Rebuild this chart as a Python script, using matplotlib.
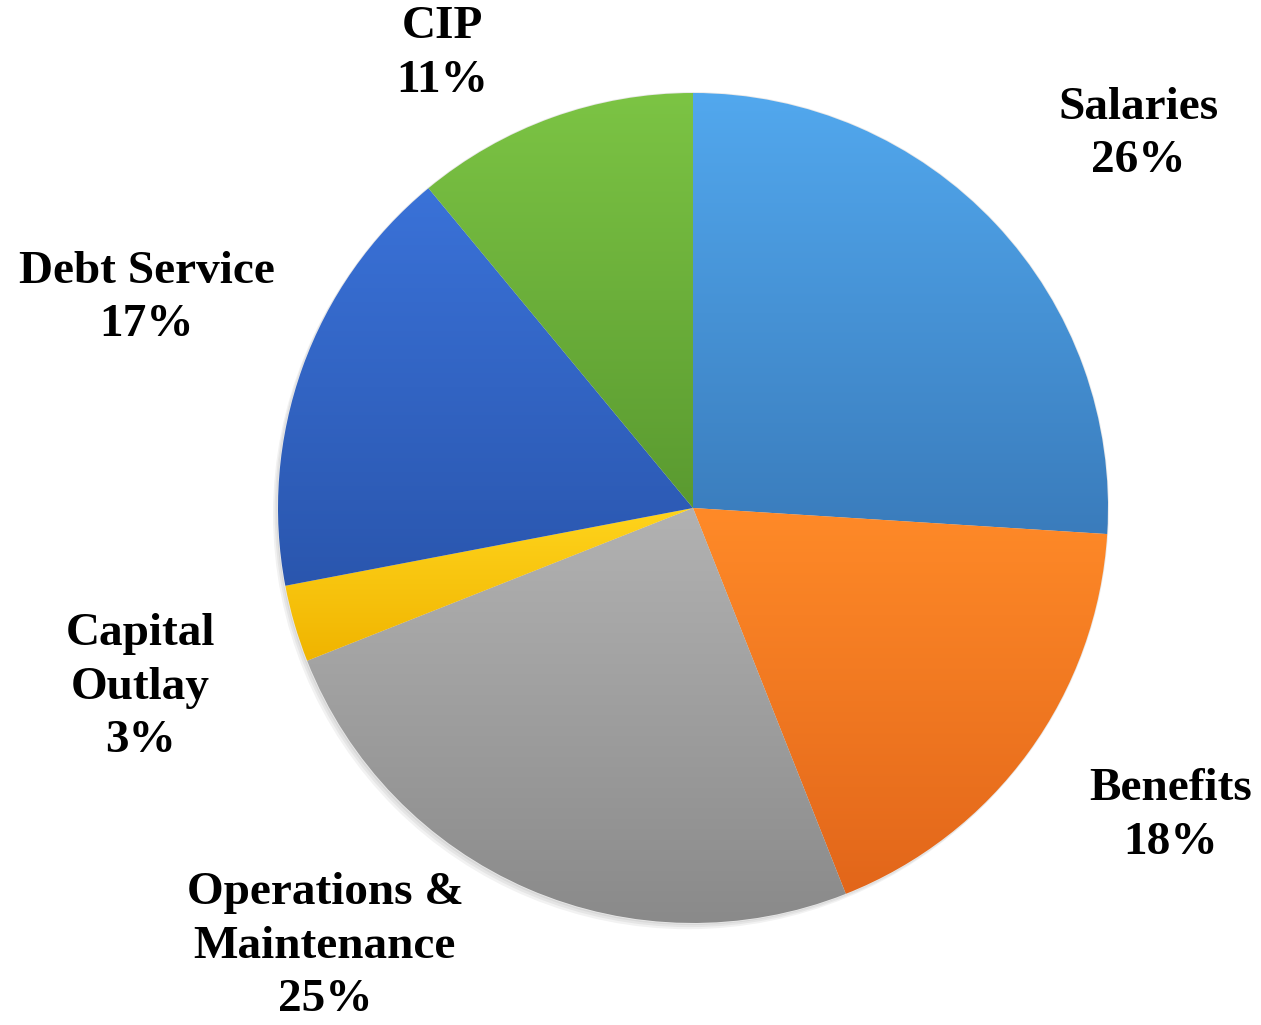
import numpy as np
import matplotlib.pyplot as plt
from matplotlib.colors import LinearSegmentedColormap

labels = ['Salaries', 'Benefits', 'Operations &\nMaintenance', 'Capital\nOutlay',
          'Debt Service', 'CIP']
shares = [26, 18, 25, 3, 17, 11]
top_colors = ['#52a8ee', '#ff8a28', '#b2b2b2', '#ffd41c', '#3a72d8', '#7cc444']
bottom_colors = ['#3a7cbc', '#e2661a', '#8a8a8a', '#f0b400', '#2a56ae', '#5a9a30']

# label placement: distance (in radii) and angle nudge from slice middle
label_dist = [1.40, 1.37, 1.38, 1.40, 1.41, 1.25]
label_nudge = [-3.2, 3.2, -16.6, 1.8, -1.2, 9.1]

fig = plt.figure(figsize=(12.61, 10.25), dpi=100)
ax = fig.add_axes([0, 0, 1, 1])

wedges, _ = ax.pie(shares, startangle=90, counterclock=False, radius=1,
                   colors=top_colors,
                   wedgeprops=dict(edgecolor='#e8e8e8', linewidth=1.2))

# faint shadow, offset down-left
for k in range(1, 4):
    ax.add_patch(plt.Circle((-0.004 * k, -0.005 * k), 1,
                            color='black', alpha=0.05, zorder=0, lw=0))

for w, c0, c1 in zip(wedges, top_colors, bottom_colors):
    ext = w.get_path().get_extents()
    cmap = LinearSegmentedColormap.from_list('g', [c0, c1])
    grad = np.linspace(0, 1, 256).reshape(-1, 1)
    im = ax.imshow(grad, cmap=cmap, aspect='auto', origin='upper',
                   extent=[ext.x0, ext.x1, ext.y0, ext.y1], zorder=w.get_zorder())
    im.set_clip_path(w)

for w, lab, s, d, nd in zip(wedges, labels, shares, label_dist, label_nudge):
    ang = np.deg2rad((w.theta1 + w.theta2) / 2 + nd)
    ax.text(d * np.cos(ang), d * np.sin(ang), f'{lab}\n{s}%',
            ha='center', va='center', multialignment='center',
            fontsize=34, fontweight='bold', family='Liberation Serif',
            linespacing=1.36, zorder=5)

R = 415
ax.set_xlim(-693 / R, (1261 - 693) / R)
ax.set_ylim(-(1025 - 508) / R, 508 / R)
ax.set_aspect('auto')
ax.axis('off')

fig.savefig('out.png', dpi=100, facecolor='white')
